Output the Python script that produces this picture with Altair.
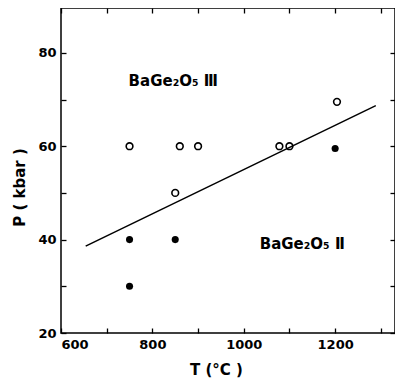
import altair as alt
import pandas as pd

# Data
open_T = [750, 850, 860, 900, 1078, 1100, 1204]
open_P = [60, 50, 60, 60, 60, 60, 69.5]
filled_T = [750, 750, 850, 1200]
filled_P = [40, 30, 40, 59.5]
line_T = [654, 1289]
line_P = [38.6, 68.7]
label_text = ["BaGe\u2082O\u2085 \u2162", "BaGe\u2082O\u2085 \u2161"]
label_T = [748, 1035]
label_P = [74.0, 39.0]

x_label_values = [600, 800, 1000, 1200]
x_tick_values = [600, 700, 800, 900, 1000, 1100, 1200, 1300]
y_label_values = [20, 40, 60, 80]
y_tick_values = [20, 30, 40, 50, 60, 70, 80]

df_open = pd.DataFrame({"T": open_T, "P": open_P})
df_filled = pd.DataFrame({"T": filled_T, "P": filled_P})
df_line = pd.DataFrame({"T": line_T, "P": line_P})
df_text = pd.DataFrame({"T": label_T, "P": label_P, "label": label_text})

xs = alt.Scale(domain=[600, 1331], nice=False, zero=False)
ys = alt.Scale(domain=[20, 89.6], nice=False, zero=False)

FONT = "DejaVu Sans"

ax_x_labels = alt.Axis(orient="bottom", values=x_label_values, ticks=False, domain=False,
                       grid=False, format="d", labelFont=FONT, labelFontSize=13,
                       labelFontWeight="bold", labelColor="black", labelPadding=5,
                       title="T (\u00b0C )", titleFont=FONT, titleFontSize=15,
                       titleFontWeight="bold", titleColor="black", titleX=155, titleY=36,
                       titleBaseline="middle", titleAnchor="middle")
ax_y_labels = alt.Axis(orient="left", values=y_label_values, ticks=False, domain=False,
                       grid=False, format="d", labelFont=FONT, labelFontSize=13,
                       labelFontWeight="bold", labelColor="black", labelPadding=5,
                       title="P ( kbar )", titleFont=FONT, titleFontSize=15,
                       titleFontWeight="bold", titleColor="black", titleX=-42, titleY=179,
                       titleBaseline="middle", titleAnchor="middle")

def tick_axis(orient, values):
    return alt.Axis(orient=orient, values=values, labels=False, domain=False, grid=False,
                    ticks=True, tickSize=5, tickWidth=1.3, tickColor="black",
                    offset=-5, title=None)

open_pts = alt.Chart(df_open).mark_point(shape="circle", filled=False, stroke="black",
                                         strokeWidth=1.6, size=45, opacity=1).encode(
    x=alt.X("T:Q", scale=xs, axis=ax_x_labels),
    y=alt.Y("P:Q", scale=ys, axis=ax_y_labels),
)
filled_pts = alt.Chart(df_filled).mark_point(shape="circle", filled=True, fill="black",
                                             size=50, opacity=1).encode(
    x=alt.X("T:Q", scale=xs, axis=tick_axis("bottom", x_tick_values)),
    y=alt.Y("P:Q", scale=ys, axis=tick_axis("left", y_tick_values)),
)
line = alt.Chart(df_line).mark_line(color="black", strokeWidth=1.5).encode(
    x=alt.X("T:Q", scale=xs, axis=tick_axis("top", x_tick_values)),
    y=alt.Y("P:Q", scale=ys, axis=tick_axis("right", y_tick_values)),
)
texts = alt.Chart(df_text).mark_text(align="left", baseline="middle", font=FONT,
                                     fontSize=15, fontWeight="bold", color="black").encode(
    x=alt.X("T:Q", scale=xs, axis=None),
    y=alt.Y("P:Q", scale=ys, axis=None),
    text="label:N",
)

chart = alt.layer(open_pts, filled_pts, line, texts).resolve_axis(
    x="independent", y="independent"
).properties(
    width=334, height=325,
    autosize=alt.AutoSizeParams(type="none"),
    padding={"left": 53, "top": 0, "right": 0, "bottom": 46},
    background="white",
).configure_view(stroke="black", strokeWidth=1.5)

chart.save("out.html", embed_options={"renderer": "svg", "actions": False})
